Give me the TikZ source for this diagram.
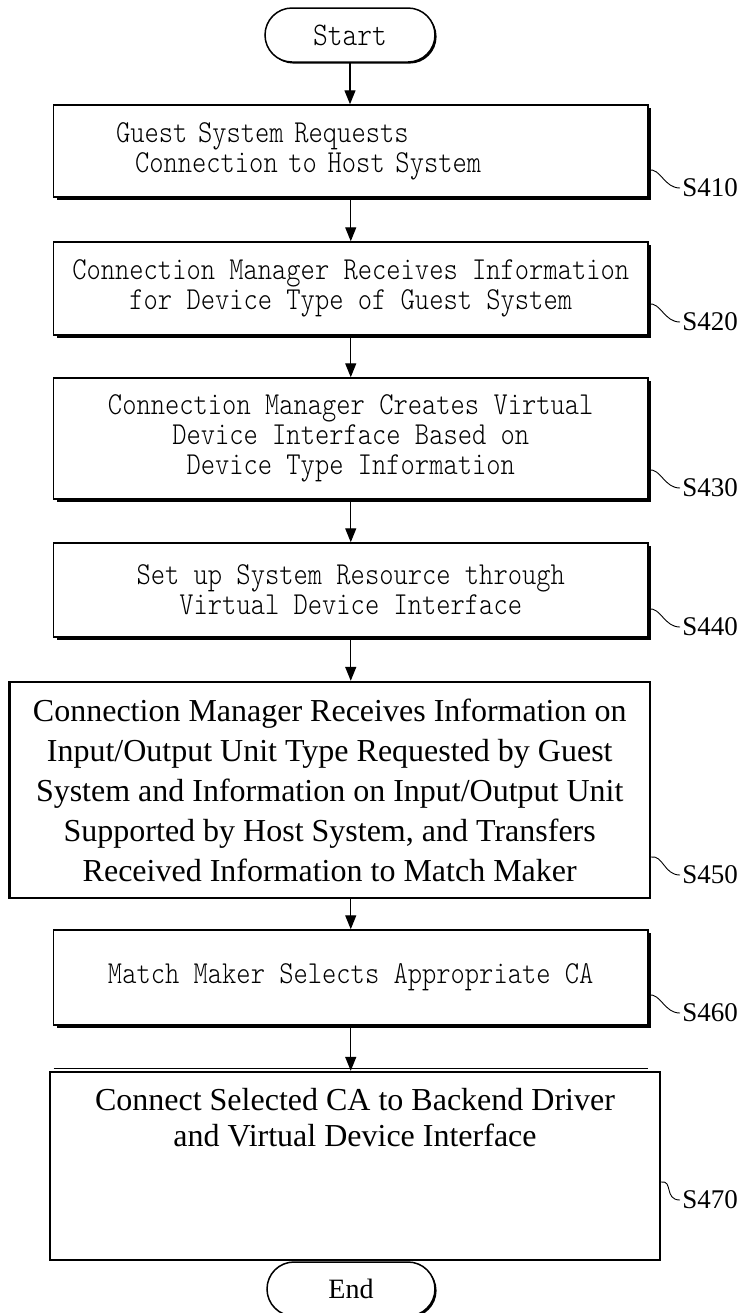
\documentclass[tikz,border=0pt]{standalone}
\usepackage{fontspec}
\setmainfont{Liberation Serif}
\newfontfamily\monofont{lmmonolt10-regular.otf}[FakeStretch=0.85]
\usetikzlibrary{arrows.meta,calc,shadows}

\tikzset{
  stepbox/.style={draw, line width=0.75pt, fill=white, inner sep=0pt,
    minimum width=297.25pt, align=center,
    drop shadow={shadow xshift=1.5pt, shadow yshift=-1.5pt, opacity=1, fill=black},
    font=\monofont\fontsize{16pt}{15pt}\selectfont},
  bigbox/.style={draw, line width=1.2pt, fill=white, inner sep=0pt, align=center,
    font=\fontsize{16pt}{20pt}\selectfont},
  terminal/.style={draw, line width=0.75pt, fill=white, inner sep=0pt,
    rounded corners=13.5pt, minimum height=27pt,
    drop shadow={shadow xshift=0.8pt, shadow yshift=-0.8pt, opacity=1, fill=black}},
  flow/.style={-{Triangle[length=7pt,width=5.5pt]}, line width=0.7pt},
  reflabel/.style={anchor=west, inner sep=1pt, font=\fontsize{13.5pt}{15pt}\selectfont},
  leaderline/.style={line width=0.45pt}
}

\begin{document}
\begin{tikzpicture}[x=0.5pt, y=-0.5pt]
\useasboundingbox (0,0) rectangle (740,1313);
\fill[white] (0,0) rectangle (740,1313);
\clip (0,0) rectangle (740,1313);

% terminals
\node[terminal, minimum width=85pt, font=\monofont\fontsize{16.5pt}{14pt}\selectfont] (start) at (350,35) {Start};

% process steps
\node[stepbox, minimum height=46pt, text width=234.75pt, align=left] (b1) at (350.75,151)
  {Guest System Requests\\\hspace*{9.5pt}Connection to Host System};
\node[stepbox, minimum height=46.5pt] (b2) at (350.75,288.5)
  {Connection Manager Receives Information\\for Device Type of Guest System};
\node[stepbox, minimum height=60.5pt] (b3) at (350.75,438.5)
  {Connection Manager Creates Virtual\\Device Interface Based on\\Device Type Information};
\node[stepbox, minimum height=47pt] (b4) at (350.75,590)
  {Set up System Resource through\\Virtual Device Interface};
\node[bigbox, minimum width=320.25pt, minimum height=108pt] (b5) at (329.75,790)
  {Connection Manager Receives Information on\\
   Input/Output Unit Type Requested by Guest\\
   System and Information on Input/Output Unit\\
   Supported by Host System, and Transfers\\
   Received Information to Match Maker};
\node[stepbox, minimum height=47.5pt] (b6) at (350.75,977.5)
  {Match Maker Selects Appropriate CA};
\draw[line width=0.5pt] (53.5,1068) -- (648,1068);
\node[bigbox, minimum width=305pt, minimum height=94pt] (b7) at (355,1166)
  {\parbox[c][94pt][t]{295pt}{\centering\fontsize{16pt}{18pt}\selectfont
   \vspace*{8pt}Connect Selected CA to Backend Driver\\and Virtual Device Interface}};

\node[terminal, minimum width=84pt, font=\fontsize{14pt}{14pt}\selectfont] (end) at (351,1289) {End};

% flow arrows
\draw[flow] (start.south) -- (start.south |- b1.north);
\draw[flow] (b1.south) -- (b1.south |- b2.north);
\draw[flow] (b2.south) -- (b2.south |- b3.north);
\draw[flow] (b3.south) -- (b3.south |- b4.north);
\draw[flow] (b4.south) -- (b4.south |- b5.north);
\draw[flow] (b4.south |- b5.south) -- (b4.south |- b6.north);
\draw[flow] (b6.south) -- (b6.south |- b7.north);

% step reference labels
\node[reflabel] (l1) at (680,188) {S410};
\node[reflabel] (l2) at (680,322) {S420};
\node[reflabel] (l3) at (680,488) {S430};
\node[reflabel] (l4) at (680,627) {S440};
\node[reflabel] (l5) at (680,875) {S450};
\node[reflabel] (l6) at (680,1013) {S460};
\node[reflabel] (l7) at (680,1200) {S470};

\foreach \i in {1,...,7} {
  \coordinate (t\i) at ($(b\i.east |- l\i.west)+(0,-18)$);
  \draw[leaderline] (t\i) .. controls ($(t\i)+(12,-2)$) and ($(l\i.west)+(-16,0)$) .. (l\i.west);
}
\end{tikzpicture}
\end{document}
